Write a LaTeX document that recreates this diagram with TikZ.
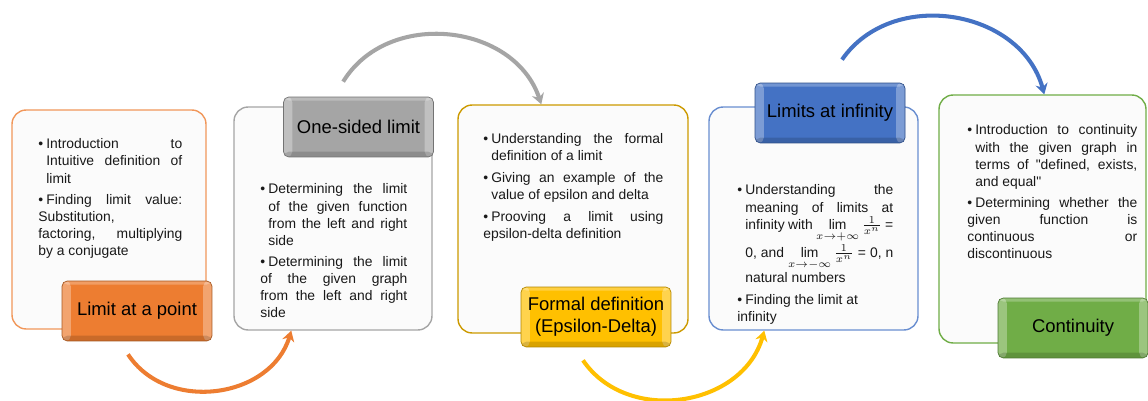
\documentclass[tikz,border=0pt]{standalone}
\usepackage{fontspec}
\setmainfont{Liberation Sans}
\usetikzlibrary{arrows.meta}

\definecolor{orangeA}{RGB}{237,125,49}
\definecolor{grayA}{RGB}{165,165,165}
\definecolor{yellowA}{RGB}{255,192,0}
\definecolor{blueA}{RGB}{68,114,196}
\definecolor{greenA}{RGB}{112,173,71}

\tolerance=10000 \hyphenpenalty=10000 \emergencystretch=2em \hbadness=10000
\newcommand{\bitem}{\par\setlength{\parskip}{2.6pt}\hangindent=0.16cm\hangafter=1\noindent\makebox[0.16cm][l]{\textbullet}}

\begin{document}
\begin{tikzpicture}[x=0.02cm, y=-0.02cm,
  topic/.style={draw=#1, line width=0.8pt, rounded corners=8pt, fill=gray!3},
  tab/.style={fill=#1, draw=#1!70!black, line width=0.4pt, rounded corners=3pt, minimum width=3cm, minimum height=1.2cm,
    align=center, font=\fontsize{10.5}{12.6}\selectfont, path picture={
      \fill[white, opacity=.3] (path picture bounding box.south west) rectangle ([xshift=5pt]path picture bounding box.north west);
      \fill[white, opacity=.3] ([xshift=-5pt]path picture bounding box.south east) rectangle (path picture bounding box.north east);
      \fill[white, opacity=.25] ([yshift=-2pt]path picture bounding box.north west) rectangle (path picture bounding box.north east);
      \fill[black, opacity=.15] (path picture bounding box.south west) rectangle ([yshift=3pt]path picture bounding box.south east);}},
  items/.style={anchor=north west, inner sep=0pt, align=justify, font=\fontsize{7.9}{9.7}\selectfont, text=black!90},
  flow/.style={line width=2.3pt, draw=#1, -{Stealth[length=6pt, width=7pt]}, looseness=1.1}]
\useasboundingbox[fill=white] (0,0) rectangle (1148,401);

\node[topic=orangeA!80!white, minimum width=3.88cm, minimum height=4.38cm] (b1) at (109,219.5) {};
\node[topic=grayA, minimum width=3.96cm, minimum height=4.46cm] (b2) at (333,218.5) {};
\node[topic=yellowA!80!black, minimum width=4.6cm, minimum height=4.56cm] (b3) at (573,219) {};
\node[topic=blueA!80!white, minimum width=4.18cm, minimum height=4.46cm] (b4) at (813.5,218.5) {};
\node[topic=greenA, minimum width=4.14cm, minimum height=4.96cm] (b5) at (1042.5,219) {};

\node[items, text width=2.88cm] (x1) at (38,127) {\bitem Introduction to\linebreak Intuitive definition of\linebreak limit
  \bitem Finding limit value:\linebreak Substitution,\linebreak factoring, multiplying\linebreak by a conjugate};
\node[items, text width=2.94cm] (x2) at (260,172) {\bitem Determining the limit\linebreak of the given function\linebreak from the left and right\linebreak side
  \bitem Determining the limit\linebreak of the given graph\linebreak from the left and right\linebreak side};
\node[items, text width=3.6cm] (x3) at (483,122) {\bitem Understanding the formal\linebreak definition of a limit
  \bitem Giving an example of the\linebreak value of epsilon and delta
  \bitem Prooving a limit using\linebreak epsilon-delta definition};
\node[items, text width=3.12cm] (x4) at (737,173) {\bitem Understanding the\linebreak meaning of limits at\linebreak infinity with $\lim\limits_{x\to+\infty}\frac{1}{x^{n}}$ =\linebreak 0, and $\lim\limits_{x\to-\infty}\frac{1}{x^{n}}$ = 0, n\linebreak natural numbers
  \bitem Finding the limit at\\ infinity};
\node[items, text width=3.4cm] (x5) at (967,113) {\bitem Introduction to continuity\linebreak with the given graph in\linebreak terms of \textquotedbl defined, exists,\linebreak and equal\textquotedbl
  \bitem Determining whether the\linebreak given function is\linebreak continuous or\linebreak discontinuous};

\node[tab=orangeA] (t1) at (137,311) {Limit at a point};
\node[tab=grayA] (t2) at (358.5,127) {One-sided limit};
\node[tab=yellowA] (t3) at (596,317) {Formal definition\\(Epsilon-Delta)};
\node[tab=blueA] (t4) at (830,113) {Limits at infinity};
\node[tab=greenA] (t5) at (1073,328) {Continuity};

\draw[flow=orangeA] ([xshift=-0.18cm, yshift=-0.26cm]t1.south) to[bend right=65] ([xshift=1.16cm]b2.south west);
\draw[flow=grayA] ([xshift=1.2cm, yshift=0.3cm]t2.north west) to[bend left=65] ([xshift=1.68cm]b3.north west);
\draw[flow=yellowA] ([xshift=-0.26cm, yshift=-0.26cm]t3.south) to[bend right=65] ([xshift=1.12cm]b4.south west);
\draw[flow=blueA] ([xshift=0.24cm, yshift=0.46cm]t4.north) to[bend left=65] ([xshift=2.12cm]b5.north west);
\end{tikzpicture}
\end{document}
